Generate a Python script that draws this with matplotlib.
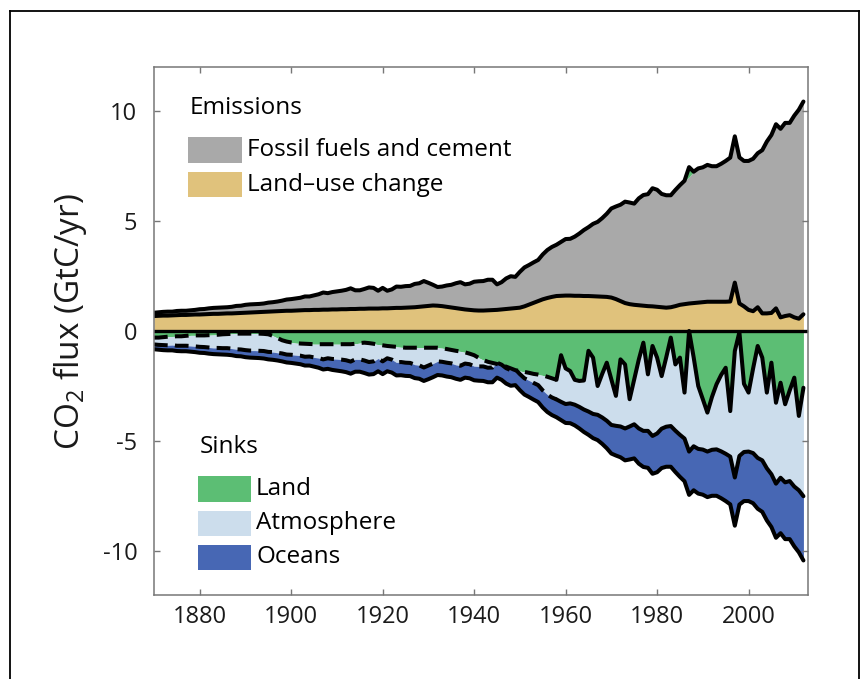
import matplotlib.pyplot as plt
from matplotlib.lines import Line2D
from matplotlib.patches import Rectangle
import numpy as np

plt.rcParams['font.family'] = ['Open Sans', 'DejaVu Sans']
plt.rcParams['mathtext.fontset'] = 'custom'
plt.rcParams['mathtext.rm'] = 'Open Sans'
plt.rcParams['axes.unicode_minus'] = False

years = np.arange(1870, 2013)

# GtC/yr, one value per year 1870-2012
fossil = np.array([
    0.15, 0.16, 0.17, 0.18, 0.17, 0.19, 0.19, 0.19, 0.20, 0.21,
    0.24, 0.24, 0.26, 0.27, 0.28, 0.28, 0.28, 0.30, 0.33, 0.33,
    0.36, 0.37, 0.37, 0.37, 0.38, 0.41, 0.42, 0.44, 0.47, 0.51,
    0.53, 0.55, 0.57, 0.62, 0.62, 0.66, 0.71, 0.78, 0.75, 0.79,
    0.82, 0.84, 0.88, 0.94, 0.85, 0.84, 0.90, 0.96, 0.94, 0.81,
    0.93, 0.80, 0.85, 0.97, 0.96, 0.98, 0.98, 1.06, 1.07, 1.15,
    1.05, 0.94, 0.85, 0.89, 0.97, 1.03, 1.13, 1.21, 1.14, 1.19,
    1.30, 1.33, 1.34, 1.39, 1.38, 1.16, 1.24, 1.39, 1.47, 1.42,
    1.63, 1.77, 1.80, 1.84, 1.87, 2.04, 2.18, 2.27, 2.33, 2.45,
    2.57, 2.58, 2.69, 2.83, 3.00, 3.13, 3.29, 3.39, 3.57, 3.78,
    4.05, 4.21, 4.38, 4.61, 4.62, 4.60, 4.86, 5.03, 5.09, 5.37,
    5.32, 5.15, 5.11, 5.09, 5.28, 5.44, 5.61, 5.75, 5.97, 6.10,
    6.13, 6.22, 6.16, 6.16, 6.27, 6.40, 6.54, 6.65, 6.64, 6.61,
    6.77, 6.93, 7.00, 7.42, 7.81, 8.09, 8.37, 8.57, 8.78, 8.74,
    9.17, 9.50, 9.67])

land_use = np.array([
    0.68, 0.69, 0.70, 0.70, 0.71, 0.72, 0.73, 0.73, 0.74, 0.75,
    0.75, 0.76, 0.77, 0.78, 0.78, 0.79, 0.80, 0.80, 0.81, 0.82,
    0.83, 0.84, 0.85, 0.86, 0.87, 0.88, 0.89, 0.90, 0.91, 0.92,
    0.92, 0.93, 0.94, 0.95, 0.95, 0.96, 0.96, 0.97, 0.97, 0.98,
    0.98, 0.99, 0.99, 1.00, 1.00, 1.01, 1.01, 1.02, 1.02, 1.02,
    1.03, 1.03, 1.04, 1.05, 1.05, 1.06, 1.07, 1.08, 1.10, 1.12,
    1.14, 1.16, 1.15, 1.13, 1.10, 1.07, 1.04, 1.01, 0.98, 0.96,
    0.94, 0.93, 0.93, 0.94, 0.95, 0.96, 0.98, 1.00, 1.02, 1.04,
    1.06, 1.12, 1.20, 1.28, 1.36, 1.44, 1.50, 1.55, 1.59, 1.60,
    1.61, 1.61, 1.60, 1.60, 1.59, 1.59, 1.58, 1.57, 1.56, 1.55,
    1.52, 1.45, 1.36, 1.27, 1.22, 1.19, 1.17, 1.15, 1.13, 1.12,
    1.10, 1.08, 1.06, 1.08, 1.13, 1.19, 1.22, 1.25, 1.27, 1.29,
    1.31, 1.33, 1.33, 1.33, 1.33, 1.33, 1.34, 2.20, 1.25, 1.12,
    0.96, 0.90, 1.08, 0.80, 0.80, 0.82, 1.03, 0.62, 0.68, 0.72,
    0.62, 0.56, 0.76])

land_sink = np.array([
    0.30, 0.30, 0.28, 0.26, 0.25, 0.24, 0.24, 0.22, 0.20, 0.20,
    0.20, 0.20, 0.19, 0.18, 0.17, 0.15, 0.14, 0.13, 0.12, 0.12,
    0.12, 0.12, 0.12, 0.12, 0.13, 0.15, 0.22, 0.32, 0.42, 0.48,
    0.52, 0.55, 0.57, 0.58, 0.59, 0.60, 0.60, 0.60, 0.60, 0.60,
    0.60, 0.60, 0.60, 0.60, 0.58, 0.55, 0.53, 0.55, 0.58, 0.62,
    0.65, 0.68, 0.70, 0.72, 0.74, 0.76, 0.76, 0.76, 0.76, 0.76,
    0.76, 0.76, 0.76, 0.78, 0.82, 0.86, 0.90, 0.93, 0.97, 1.03,
    1.10, 1.22, 1.32, 1.40, 1.45, 1.50, 1.56, 1.62, 1.70, 1.78,
    1.82, 1.86, 1.90, 1.95, 1.98, 2.02, 2.08, 2.15, 2.22, 1.10,
    1.70, 1.82, 2.22, 2.27, 2.25, 0.90, 1.21, 2.50, 1.95, 1.44,
    2.20, 2.95, 1.29, 1.52, 3.10, 2.20, 1.30, 0.53, 1.97, 0.68,
    1.21, 2.05, 1.20, 0.30, 1.52, 1.21, 2.80, -0.45, 1.20, 2.50,
    3.10, 3.71, 3.00, 2.42, 2.00, 1.67, 3.64, 0.91, 0.05, 2.40,
    2.80, 1.70, 0.68, 1.21, 2.80, 1.44, 3.26, 2.35, 3.33, 2.70,
    2.12, 3.86, 2.58])

ocean_sink = np.array([
    0.22, 0.22, 0.23, 0.23, 0.24, 0.24, 0.25, 0.25, 0.26, 0.26,
    0.27, 0.27, 0.28, 0.28, 0.29, 0.29, 0.30, 0.30, 0.31, 0.31,
    0.32, 0.32, 0.33, 0.33, 0.34, 0.34, 0.35, 0.35, 0.36, 0.36,
    0.37, 0.38, 0.39, 0.40, 0.41, 0.42, 0.44, 0.46, 0.48, 0.50,
    0.52, 0.53, 0.54, 0.55, 0.56, 0.56, 0.57, 0.57, 0.58, 0.58,
    0.58, 0.59, 0.59, 0.59, 0.60, 0.60, 0.60, 0.61, 0.61, 0.61,
    0.62, 0.62, 0.62, 0.62, 0.63, 0.63, 0.63, 0.64, 0.64, 0.64,
    0.64, 0.65, 0.66, 0.66, 0.67, 0.68, 0.69, 0.70, 0.71, 0.72,
    0.73, 0.74, 0.75, 0.76, 0.77, 0.78, 0.79, 0.80, 0.81, 0.83,
    0.86, 0.90, 0.94, 0.98, 1.02, 1.06, 1.10, 1.15, 1.20, 1.25,
    1.30, 1.35, 1.40, 1.45, 1.50, 1.55, 1.60, 1.64, 1.68, 1.72,
    1.76, 1.79, 1.82, 1.85, 1.88, 1.91, 1.94, 1.97, 2.00, 2.03,
    2.05, 2.07, 2.09, 2.11, 2.13, 2.15, 2.17, 2.19, 2.21, 2.23,
    2.25, 2.28, 2.31, 2.34, 2.37, 2.40, 2.46, 2.52, 2.58, 2.64,
    2.72, 2.82, 2.92])

c_fossil = '#A9A9A9'
c_luc = '#E0C27C'
c_land = '#5CBE74'
c_atm = '#CCDDEC'
c_ocean = '#4767B4'

total = fossil + land_use
# land sink closes the budget in the source data, the atmosphere band is the rest
atmosphere = total - land_sink - ocean_sink
land_pos = np.clip(land_sink, 0, None)
land_neg = np.clip(-land_sink, 0, None)   # land acting as a source sits on top
b_land = -land_pos
b_atm = b_land - atmosphere
b_ocean = b_atm - ocean_sink

fig = plt.figure(figsize=(8.66, 6.79), dpi=100)
ax = fig.add_axes([154 / 866, 1 - 595 / 679, 654 / 866, 528 / 679])

ax.fill_between(years, 0, land_use, color=c_luc, lw=0)
ax.fill_between(years, land_use, total, color=c_fossil, lw=0)
ax.fill_between(years, total, total + land_neg, color=c_land, lw=0)
ax.fill_between(years, 0, b_land, color=c_land, lw=0)
ax.fill_between(years, b_land, b_atm, color=c_atm, lw=0)
ax.fill_between(years, b_atm, b_ocean, color=c_ocean, lw=0)

kw = dict(color='k', lw=2.9, solid_joinstyle='round', solid_capstyle='round')
dkw = dict(color='k', lw=2.9, dashes=(3.4, 1.8), dash_capstyle='butt')
ax.plot(years, total + land_neg, **kw)
ax.plot(years, land_use, **kw)
ax.axhline(0, color='k', lw=2.4)

pre = years <= 1958
post = years >= 1958
ax.plot(years[pre], b_land[pre], **dkw)
ax.plot(years[pre], b_atm[pre], **dkw)
ax.plot(years[post], b_land[post], **kw)
ax.plot(years[post], b_atm[post], **kw)
ax.plot(years, b_ocean, **kw)

ax.set_xlim(1870, 2013)
ax.set_ylim(-12, 12)
ax.set_xticks([1880, 1900, 1920, 1940, 1960, 1980, 2000])
ax.set_yticks([-10, -5, 0, 5, 10])
ax.tick_params(direction='in', length=4, width=1, colors='#777777',
               labelcolor='#1a1a1a', labelsize=17, top=True, right=True)
ax.tick_params(axis='x', pad=7)
ax.tick_params(axis='y', pad=12)
for s in ax.spines.values():
    s.set_color('#777777')
    s.set_linewidth(1.1)

fig.text(70 / 866, 1 - 322 / 679, 'CO$_2$ flux (GtC/yr)', rotation=90,
         ha='center', va='center', fontsize=24, color='#1a1a1a')

# legend blocks
tr = ax.transAxes
fs = 17.5
ax.text(0.055, 0.922, 'Emissions', transform=tr, fontsize=fs, va='center')
ax.add_patch(Rectangle((0.0515, 0.818), 0.0826, 0.049, transform=tr,
                       color=c_fossil, lw=0))
ax.text(0.142, 0.843, 'Fossil fuels and cement', transform=tr, fontsize=fs, va='center')
ax.add_patch(Rectangle((0.0515, 0.754), 0.0826, 0.047, transform=tr,
                       color=c_luc, lw=0))
ax.text(0.142, 0.777, 'Land\u2013use change', transform=tr, fontsize=fs, va='center')

ax.text(0.070, 0.281, 'Sinks', transform=tr, fontsize=fs, va='center')
sinks = [('Land', c_land, 0.1767), ('Atmosphere', c_atm, 0.1117), ('Oceans', c_ocean, 0.0473)]
for name, col, y0 in sinks:
    ax.add_patch(Rectangle((0.0668, y0), 0.0815, 0.048, transform=tr, color=col, lw=0))
    ax.text(0.156, y0 + 0.024, name, transform=tr, fontsize=fs, va='center')

# outer frame of the figure panel
fx0, fx1, fy1 = 10 / 866, 859 / 866, 1 - 11 / 679
for xs, ys in [([fx0, fx0], [0, fy1]), ([fx0, fx1], [fy1, fy1]), ([fx1, fx1], [fy1, 0])]:
    fig.add_artist(Line2D(xs, ys, color='k', lw=1.3, transform=fig.transFigure))

fig.savefig('out.png', dpi=100)
